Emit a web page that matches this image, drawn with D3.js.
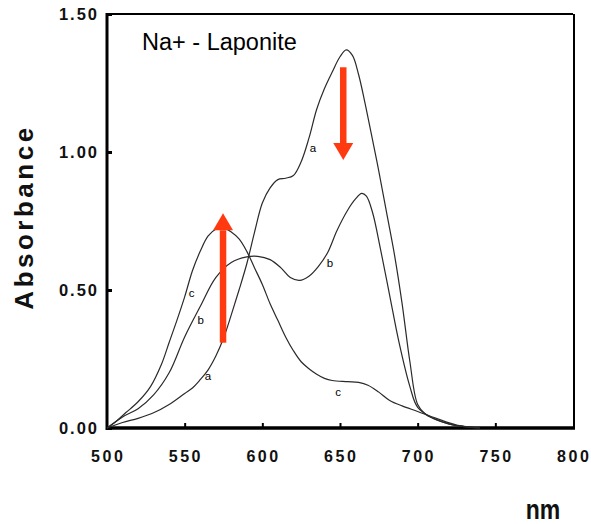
<!DOCTYPE html>
<html>
<head>
<meta charset="utf-8">
<script src="https://cdn.jsdelivr.net/npm/d3@7"></script>
<style>
html,body{margin:0;padding:0;background:#fff;}
svg{display:block;}
</style>
</head>
<body>
<svg id="chart" width="591" height="524"></svg>
<script>
// ---- data ----
const seriesA_nm  = [500,510,520,530,540,550,555,560,565,570,575,580,585,590,595,600,605,610,615,620,625,630,635,640,645,650,654,658,662,666,670,675,680,685,690,695,700,705,710,720,730,740];
const seriesA_abs = [0.00,0.02,0.035,0.055,0.085,0.125,0.145,0.175,0.21,0.26,0.325,0.41,0.50,0.595,0.71,0.815,0.87,0.90,0.905,0.915,0.965,1.05,1.155,1.23,1.29,1.345,1.37,1.35,1.28,1.18,1.07,0.93,0.78,0.63,0.45,0.24,0.085,0.05,0.035,0.015,0.005,0.0];

const seriesB_nm  = [500,510,520,530,540,550,560,570,580,590,597,605,612,618,624,630,636,642,648,655,660,664,667,671,676,682,688,695,700,710,720,730,740];
const seriesB_abs = [0.00,0.04,0.07,0.12,0.20,0.33,0.44,0.545,0.60,0.62,0.622,0.61,0.58,0.545,0.535,0.55,0.585,0.635,0.715,0.79,0.83,0.85,0.84,0.78,0.65,0.48,0.31,0.15,0.075,0.035,0.015,0.005,0.0];

const seriesC_nm  = [500,505,512,520,528,535,540,545,550,555,560,565,570,575,580,585,590,595,600,605,610,615,620,625,630,635,640,645,655,662,668,675,682,690,700,712,725,740];
const seriesC_abs = [0.00,0.02,0.055,0.095,0.15,0.23,0.31,0.39,0.475,0.57,0.64,0.695,0.72,0.725,0.71,0.685,0.64,0.58,0.52,0.45,0.39,0.33,0.28,0.24,0.215,0.195,0.18,0.172,0.168,0.165,0.155,0.13,0.10,0.08,0.06,0.035,0.011,0.0];

// curve labels: [text, nm, abs]
const curveLabels = [["a",632.6,1.014],["a",565,0.188],["b",560.3,0.391],["b",643.6,0.597],["c",554.5,0.49],["c",648.8,0.132]];

// arrows: [nm, fromAbs, toAbs]
const arrows = [[574.7,0.309,0.778],[652.1,1.307,0.971]];

const xTicks = [500,550,600,650,700,750,800];
const yTicks = [0,0.5,1.0,1.5];
const yTickLabels = ["0.00","0.50","1.00","1.50"];
const title = "Na+ - Laponite";
const xTitle = "nm";
const yTitle = "Absorbance";

// ---- drawing ----
const svg = d3.select("#chart");
const x = d3.scaleLinear().domain([500,800]).range([107,573]);
const y = d3.scaleLinear().domain([0,1.5]).range([428,14]);

// frame
const g = svg.append("g");
g.append("line").attr("x1",x(500)).attr("x2",x(800)).attr("y1",y(1.5)).attr("y2",y(1.5)).attr("stroke","#000").attr("stroke-width",2);
g.append("line").attr("x1",x(800)+1).attr("x2",x(800)+1).attr("y1",y(1.5)).attr("y2",y(0)).attr("stroke","#000").attr("stroke-width",2);

// axes with inward ticks
const yAxis = d3.axisRight(y).tickValues(yTicks).tickSize(5).tickFormat("");
const ya = svg.append("g").attr("transform",`translate(${x(500)},0)`).call(yAxis);
ya.select(".domain").remove();
ya.selectAll(".tick line").attr("stroke","#000").attr("stroke-width",3);

const xAxis = d3.axisTop(x).tickValues(xTicks.slice(1,-1)).tickSize(5).tickFormat("");
const xa = svg.append("g").attr("transform",`translate(0,${y(0)})`).call(xAxis);
xa.select(".domain").remove();
xa.selectAll(".tick line").attr("stroke","#000").attr("stroke-width",2);

g.append("line").attr("x1",x(500)).attr("x2",x(500)).attr("y1",y(1.5)-1).attr("y2",y(0)+2).attr("stroke","#000").attr("stroke-width",3);
g.append("line").attr("x1",x(500)-1).attr("x2",x(800)+2).attr("y1",y(0)).attr("y2",y(0)).attr("stroke","#000").attr("stroke-width",3.5);

// tick labels
svg.append("g").selectAll("text").data(yTicks).join("text")
  .attr("x",97+2).attr("y",d=>y(d)).attr("dy","0.36em")
  .attr("text-anchor","end")
  .attr("font-family","Liberation Sans, Arial, sans-serif").attr("font-weight","bold")
  .attr("font-size",16.5).attr("letter-spacing","2px").attr("fill","#111")
  .text((d,i)=>yTickLabels[i]);

svg.append("g").selectAll("text").data(xTicks).join("text")
  .attr("x",d=>x(d)+1.2).attr("y",462)
  .attr("text-anchor","middle")
  .attr("font-family","Liberation Sans, Arial, sans-serif").attr("font-weight","bold")
  .attr("font-size",16).attr("letter-spacing","2.5px").attr("fill","#111")
  .text(d=>d);

// axis titles
svg.append("text")
  .attr("transform","translate(33,217) rotate(-90)")
  .attr("text-anchor","middle")
  .attr("font-family","Liberation Sans, Arial, sans-serif").attr("font-weight","bold")
  .attr("font-size",26).attr("letter-spacing","3.5px").attr("fill","#111")
  .text(yTitle);

svg.append("text")
  .attr("transform","translate(543,519) scale(1,1.2)")
  .attr("text-anchor","middle")
  .attr("font-family","Liberation Sans, Arial, sans-serif").attr("font-weight","bold")
  .attr("font-size",23).attr("fill","#111")
  .text(xTitle);

// title inside plot
svg.append("text")
  .attr("x",142).attr("y",50)
  .attr("font-family","Liberation Sans, Arial, sans-serif")
  .attr("font-size",23.5).attr("fill","#000")
  .text(title);

// curves
const line = d3.line().x(d=>x(d[0])).y(d=>y(Math.max(0,d[1]))).curve(d3.curveCatmullRom.alpha(0.5));
const series = [
  d3.zip(seriesA_nm, seriesA_abs),
  d3.zip(seriesB_nm, seriesB_abs),
  d3.zip(seriesC_nm, seriesC_abs)
];
svg.append("g").selectAll("path").data(series).join("path")
  .attr("d",line).attr("fill","none").attr("stroke","#2a2a2a").attr("stroke-width",1.2);

// curve labels
svg.append("g").selectAll("text").data(curveLabels).join("text")
  .attr("x",d=>x(d[1])).attr("y",d=>y(d[2]))
  .attr("text-anchor","middle").attr("dy","0.35em")
  .attr("font-family","Liberation Sans, Arial, sans-serif").attr("font-size",11.5)
  .attr("fill","#000")
  .text(d=>d[0]);

// arrows
const red = "#ff3a10";
arrows.forEach(a=>{
  const cx = x(a[0]);
  const y0 = y(a[1]), y1 = y(a[2]);
  const dir = y1 < y0 ? -1 : 1;
  const headLen = 17, headHalf = 10;
  svg.append("line").attr("x1",cx).attr("x2",cx).attr("y1",y0).attr("y2",y1 - dir*headLen)
    .attr("stroke",red).attr("stroke-width",6.5);
  svg.append("path")
    .attr("d",`M${cx-headHalf},${y1-dir*headLen} L${cx+headHalf},${y1-dir*headLen} L${cx},${y1} Z`)
    .attr("fill",red);
});
</script>
</body>
</html>
